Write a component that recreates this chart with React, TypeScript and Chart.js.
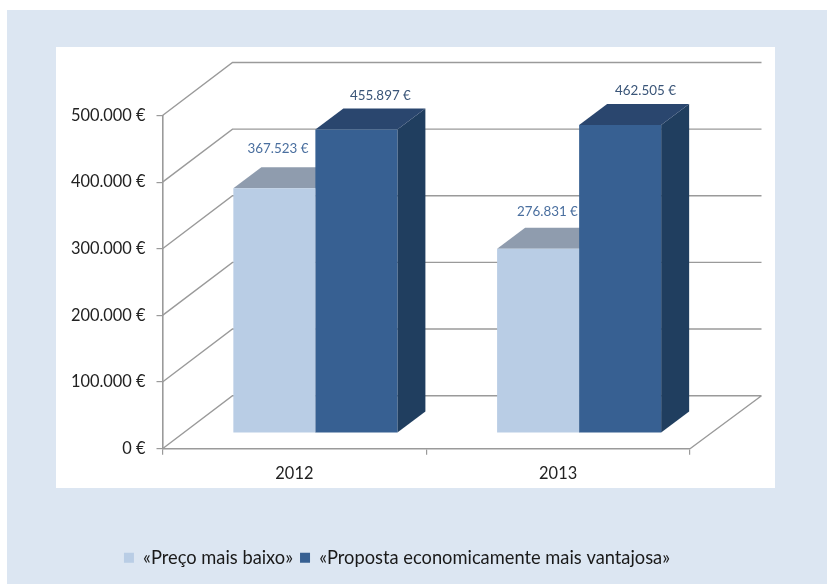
import React, { useEffect, useRef } from "react";
import { Chart, registerables } from "chart.js";

Chart.register(...registerables);

const categories = ["2012", "2013"];
const precoMaisBaixo = [367523, 276831];
const propostaVantajosa = [455897, 462505];
const yTicks = [0, 100000, 200000, 300000, 400000, 500000];

const FONT = "Lato, Carlito, 'Open Sans', sans-serif";
const GRID = "#9a9a9a";
const WALL = { dx: 70, dy: -53 };
const BAR_PLANE = { dx: 21, dy: -15.5 };
const BAR_DEPTH = { dx: 28, dy: -21 };
const FACE_COLORS = [
  { top: "#8f9cae", side: "#6f8099" },
  { top: "#2a466e", side: "#203e5f" },
];
const LABEL_COLORS = ["#4a6f9f", "#3a5578"];
const LABEL_NUDGE = [
  [{ x: 3.6, y: -40 }, { x: 9.3, y: -37 }],
  [{ x: 24, y: -34 }, { x: 25.3, y: -34 }],
];

const euro = (v: number) => String(v).replace(/\B(?=(\d{3})+$)/g, ".") + " €";

const threeD = {
  id: "threeD",
  afterLayout(chart: any) {
    // centre the legend under the whole picture, not under the plot
    chart.legend.left = 0;
    chart.legend.right = 794;
  },
  beforeDraw(chart: any) {
    const { ctx } = chart;
    ctx.save();
    ctx.fillStyle = "#dce6f2";
    ctx.fillRect(7, 10, 820, 574);
    ctx.fillStyle = "#ffffff";
    ctx.fillRect(56, 47, 719, 441);
    ctx.restore();
  },
  beforeDatasetsDraw(chart: any) {
    const { ctx, chartArea: a, scales } = chart;
    const y = scales.y;
    ctx.save();
    ctx.strokeStyle = GRID;
    ctx.lineWidth = 1.4;
    ctx.beginPath();
    yTicks.forEach((t) => {
      const py = y.getPixelForValue(t);
      ctx.moveTo(a.left, py);
      ctx.lineTo(a.left + WALL.dx, py + WALL.dy);
      ctx.lineTo(a.right + WALL.dx + 1.5, py + WALL.dy);
    });
    const py0 = y.getPixelForValue(0);
    ctx.moveTo(a.right, py0);
    ctx.lineTo(a.right + WALL.dx + 1.5, py0 + WALL.dy);
    ctx.stroke();

    [0, 1].forEach((d) => {
      chart.getDatasetMeta(d).data.forEach((el: any) => {
        const l = el.x - el.width / 2 + BAR_PLANE.dx;
        const r = el.x + el.width / 2 + BAR_PLANE.dx;
        const t = el.y + BAR_PLANE.dy;
        const b = el.base + BAR_PLANE.dy;
        ctx.fillStyle = FACE_COLORS[d].side;
        ctx.beginPath();
        ctx.moveTo(r, t);
        ctx.lineTo(r + BAR_DEPTH.dx, t + BAR_DEPTH.dy);
        ctx.lineTo(r + BAR_DEPTH.dx, b + BAR_DEPTH.dy);
        ctx.lineTo(r, b);
        ctx.closePath();
        ctx.fill();
        ctx.fillStyle = FACE_COLORS[d].top;
        ctx.beginPath();
        ctx.moveTo(l, t);
        ctx.lineTo(l + BAR_DEPTH.dx, t + BAR_DEPTH.dy);
        ctx.lineTo(r + BAR_DEPTH.dx, t + BAR_DEPTH.dy);
        ctx.lineTo(r, t);
        ctx.closePath();
        ctx.fill();
      });
    });
    ctx.restore();
    ctx.save();
    ctx.translate(BAR_PLANE.dx, BAR_PLANE.dy);
  },
  afterDatasetsDraw(chart: any) {
    const { ctx } = chart;
    ctx.restore();
    ctx.save();
    ctx.font = `13.4px ${FONT}`;
    ctx.textAlign = "center";
    ctx.textBaseline = "middle";
    [0, 1].forEach((d) => {
      chart.getDatasetMeta(d).data.forEach((el: any, i: number) => {
        ctx.fillStyle = LABEL_COLORS[d];
        const n = LABEL_NUDGE[d][i];
        ctx.fillText(euro(chart.data.datasets[d].data[i]), el.x + BAR_PLANE.dx + n.x, el.y + BAR_PLANE.dy + n.y);
      });
    });
    ctx.restore();
  },
};

export default function App() {
  const ref = useRef<HTMLCanvasElement>(null);
  useEffect(() => {
    const chart = new Chart(ref.current!, {
      type: "bar",
      data: {
        labels: categories,
        datasets: [
          { label: "«Preço mais baixo»", data: precoMaisBaixo, backgroundColor: "#b9cde5", clip: false } as any,
          { label: "«Proposta economicamente mais vantajosa»", data: propostaVantajosa, backgroundColor: "#376092", clip: false } as any,
        ],
      },
      plugins: [threeD],
      options: {
        responsive: false,
        animation: false,
        events: [],
        datasets: { bar: { barPercentage: 1, categoryPercentage: 0.622 } },
        layout: { padding: { left: 0, right: 137, top: 115.5, bottom: 7 } },
        scales: {
          x: {
            offset: true,
            afterFit: (s: any) => { s.height = 93; },
            grid: { drawOnChartArea: false, drawTicks: true, tickLength: 6, color: GRID, lineWidth: 1.2, offset: true },
            border: { color: GRID, width: 1.6 },
            ticks: { color: "#222222", font: { family: FONT, size: 16.4 }, padding: 9, maxRotation: 0 },
          },
          y: {
            min: 0,
            max: 500000,
            afterFit: (s: any) => { s.width = 162.5; },
            afterBuildTicks: (s: any) => { s.ticks = yTicks.map((value) => ({ value })); },
            grid: { drawOnChartArea: false, drawTicks: true, tickLength: 6, color: GRID, lineWidth: 1.2 },
            border: { color: GRID, width: 1.6 },
            ticks: { color: "#222222", font: { family: FONT, size: 16.4 }, padding: 11, callback: (v: any) => euro(Number(v)) },
          },
        },
        plugins: {
          tooltip: { enabled: false },
          title: { display: false },
          legend: {
            position: "bottom",
            labels: { boxWidth: 10, boxHeight: 10, padding: 7, color: "#1a1a1a", font: { family: FONT, size: 18.3 } },
          },
        },
      },
    } as any);
    return () => chart.destroy();
  }, []);
  return (
    <div style={{ position: "absolute", left: 0, top: 0, width: 827, height: 584 }}>
      <canvas ref={ref} width={827} height={584} style={{ display: "block" }} />
    </div>
  );
}
